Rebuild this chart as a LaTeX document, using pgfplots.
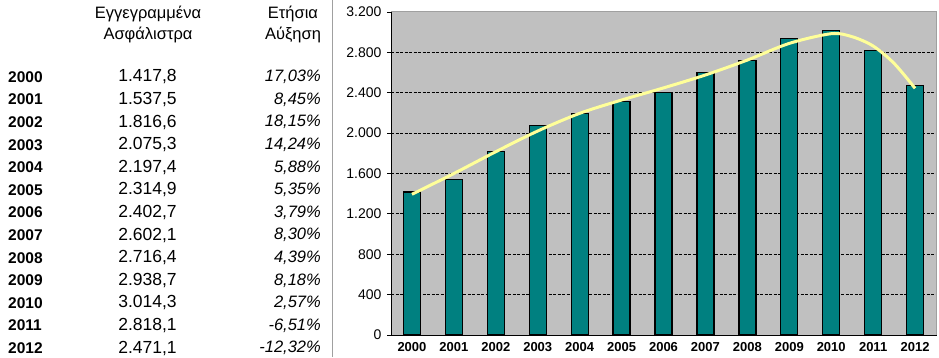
\documentclass[border=0pt]{standalone}
\usepackage{pgfplots}
\pgfplotsset{compat=1.18}
\usepackage{fontspec}
\setmainfont{Liberation Sans}
\definecolor{barteal}{RGB}{0,128,128}
\definecolor{bggray}{RGB}{192,192,192}
\definecolor{trend}{RGB}{255,255,153}
\definecolor{sepgray}{RGB}{160,160,160}
\begin{document}
\begin{tikzpicture}[x=1bp,y=1bp]
\path[use as bounding box] (0,0) rectangle (939,357);
\draw[sepgray, line width=1.5bp] (332.5,0) -- (332.5,357);
% table headers
\begin{scope}[every node/.style={font=\fontsize{16.5bp}{19bp}\selectfont, inner sep=0pt}]
\node at (148,343) {Εγγεγραμμένα};
\node at (148,322) {Ασφάλιστρα};
\node at (293,343) {Ετήσια};
\node at (293,322) {Αύξηση};
\end{scope}
\begin{scope}[every node/.style={font=\fontsize{17.5bp}{19bp}\selectfont, inner sep=0pt}]
\foreach \yr/\val/\pct [count=\i from 0] in {2000/1.417{,}8/17{,}03\%,2001/1.537{,}5/8{,}45\%,2002/1.816{,}6/18{,}15\%,2003/2.075{,}3/14{,}24\%,2004/2.197{,}4/5{,}88\%,2005/2.314{,}9/5{,}35\%,2006/2.402{,}7/3{,}79\%,2007/2.602{,}1/8{,}30\%,2008/2.716{,}4/4{,}39\%,2009/2.938{,}7/8{,}18\%,2010/3.014{,}3/2{,}57\%,2011/2.818{,}1/-6{,}51\%,2012/2.471{,}1/-12{,}32\%}{
  \pgfmathsetmacro{\yy}{280-22.6*\i}
  \node[anchor=west, font=\fontsize{15.5bp}{19bp}\selectfont\bfseries] at (8,\yy) {\yr};
  \node at (147.5,\yy) {\val};
  \node[anchor=east, font=\fontsize{16.5bp}{19bp}\selectfont\itshape] at (321,\yy) {\pct};
}
\end{scope}
\begin{axis}[
  at={(391bp,22bp)}, anchor=south west,
  width=545bp, height=323bp, scale only axis,
  xmin=-0.5, xmax=12.5, ymin=0, ymax=3200,
  axis x line*=bottom, axis y line*=left,
  axis line style={black, line width=1bp, -},
  axis background/.style={fill=bggray},
  ytick={0,400,...,3200},
  xtick={0,...,12},
  xticklabels={2000,2001,2002,2003,2004,2005,2006,2007,2008,2009,2010,2011,2012},
  x tick style={draw=none},
  extra x ticks={0.5,1.5,...,11.5},
  extra x tick labels={},
  extra x tick style={grid=none, tick style={draw=gray, line width=0.8bp}},
  tick align=outside,
  major tick length=4bp,
  y tick style={black, line width=0.8bp},
  ymajorgrids,
  grid style={black, dash pattern=on 3bp off 1.5bp, line width=1bp},
  scaled y ticks=false,
  /pgf/number format/1000 sep={.},
  /pgf/number format/assume math mode=true,
  yticklabel style={font=\fontsize{14bp}{16bp}\selectfont, xshift=-2bp},
  xticklabel style={font=\fontsize{13bp}{15bp}\selectfont\bfseries},
  clip=false,
]
\addplot[ybar, bar width=17bp, fill=barteal, draw=black, line width=1.3bp] coordinates {
(0,1417.8) (1,1537.5) (2,1816.6) (3,2075.3) (4,2197.4) (5,2314.9) (6,2402.7)
(7,2602.1) (8,2716.4) (9,2938.7) (10,3014.3) (11,2818.1) (12,2471.1)};
\addplot[trend, line width=3bp, smooth, tension=0.5] coordinates {
(0,1394) (1,1600) (2,1816) (3,2021) (4,2196) (5,2328) (6,2448) (7,2576) (8,2724) (9,2889) (10,2985) (10.5,2955) (11,2863) (11.5,2691) (12,2444)};
\draw[sepgray, line width=1bp] (rel axis cs:0,1) -- (rel axis cs:1,1) -- (rel axis cs:1,0);
\end{axis}
\end{tikzpicture}
\end{document}
